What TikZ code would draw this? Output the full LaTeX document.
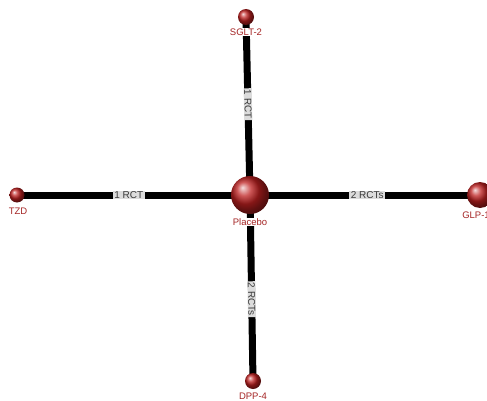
\documentclass[tikz,border=0pt]{standalone}
\usepackage{fontspec}
\setmainfont{Liberation Sans}
\usetikzlibrary{backgrounds}
\definecolor{nodered}{HTML}{BE2020}
\definecolor{labred}{HTML}{A52525}
\definecolor{edgelab}{HTML}{DCDCDC}
\definecolor{edgetxt}{HTML}{3A3A3A}
\tikzset{
  ball/.style={circle, shading=ball, ball color=nodered, inner sep=0pt, draw=none},
  nlab/.style={text=labred, fill=white, font=\fontsize{9.5}{10}\selectfont, inner sep=0.5pt},
  link/.style={line width=7pt, black},
  elab/.style={fill=edgelab, text=edgetxt, font=\fontsize{10}{10}\selectfont, inner xsep=1.5pt, inner ysep=0.5pt, sloped}
}
\begin{document}
\begin{tikzpicture}[x=1pt,y=1pt]
\useasboundingbox (0,0) rectangle (487,400);
\node[ball, minimum size=38pt] (plac) at (250,205) {};
\node[ball, minimum size=16pt] (sglt) at (246,383) {};
\node[ball, minimum size=15pt] (tzd) at (17,205) {};
\node[ball, minimum size=26pt] (glp) at (480,205) {};
\node[ball, minimum size=16pt] (dpp) at (253,19) {};
\begin{pgfonlayer}{background}
\draw[link] (sglt.center) -- node[elab, pos=0.49] {1 RCT} (plac.center);
\draw[link] (plac.center) -- node[elab, pos=0.56] {2 RCTs} (dpp.center);
\draw[link] (tzd.center) -- node[elab, pos=0.48] {1 RCT} (plac.center);
\draw[link] (plac.center) -- node[elab, pos=0.51] {2 RCTs} (glp.center);
\end{pgfonlayer}
\node[nlab] (placl) at (250,178) {Placebo};
\node[nlab] (scltl) at (246,368) {SGLT-2};
\node[nlab] (tzdl) at (18,189) {TZD};
\node[nlab] (glpl) at (476,185) {GLP-1};
\node[nlab] (dppl) at (253,4) {DPP-4};
\end{tikzpicture}
\end{document}
